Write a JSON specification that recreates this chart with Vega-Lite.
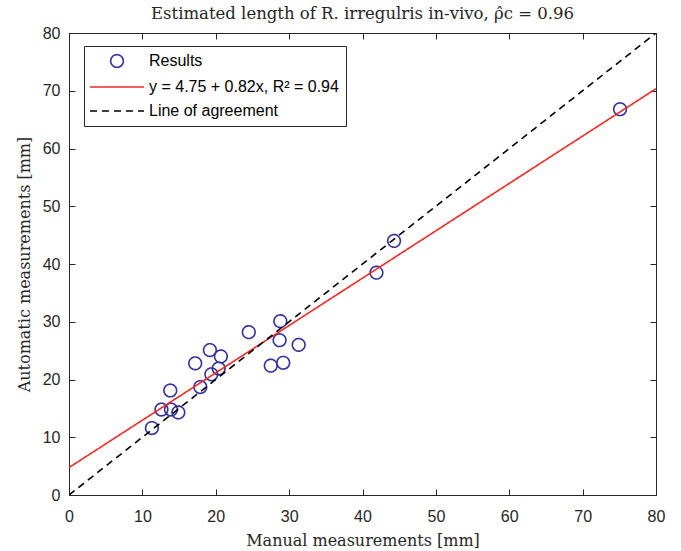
{
  "$schema": "https://vega.github.io/schema/vega-lite/v6.json",
  "width": 587,
  "height": 462,
  "autosize": "none",
  "padding": {"left": 69, "top": 33, "right": 25, "bottom": 56},
  "background": "white",
  "title": {"text": "Estimated length of R. irregulris in-vivo, ρ̂c = 0.96", "font": "DejaVu Serif", "fontSize": 16.5, "fontWeight": "normal", "color": "#262626", "offset": 3, "anchor": "middle"},
  "config": {
    "view": {"stroke": "#262626", "strokeWidth": 1},
    "axis": {"grid": false, "domainColor": "#262626", "tickColor": "#262626", "tickSize": -6, "labelFont": "Liberation Sans", "labelFontSize": 16, "labelColor": "#262626", "titleFont": "DejaVu Serif", "titleFontSize": 16, "titleFontWeight": "normal", "titleColor": "#262626", "labelFlush": false, "labelOverlap": false}
  },
  "datasets": {
    "pts": [
      {"manual": 11.3, "automatic": 11.6, "series": "Results"},
      {"manual": 12.6, "automatic": 14.8, "series": "Results"},
      {"manual": 13.8, "automatic": 18.1, "series": "Results"},
      {"manual": 13.9, "automatic": 14.8, "series": "Results"},
      {"manual": 14.9, "automatic": 14.3, "series": "Results"},
      {"manual": 17.2, "automatic": 22.8, "series": "Results"},
      {"manual": 17.9, "automatic": 18.7, "series": "Results"},
      {"manual": 19.2, "automatic": 25.1, "series": "Results"},
      {"manual": 19.4, "automatic": 20.9, "series": "Results"},
      {"manual": 20.4, "automatic": 21.9, "series": "Results"},
      {"manual": 20.7, "automatic": 24.0, "series": "Results"},
      {"manual": 24.5, "automatic": 28.2, "series": "Results"},
      {"manual": 27.5, "automatic": 22.4, "series": "Results"},
      {"manual": 28.7, "automatic": 26.8, "series": "Results"},
      {"manual": 28.8, "automatic": 30.1, "series": "Results"},
      {"manual": 29.2, "automatic": 22.9, "series": "Results"},
      {"manual": 31.3, "automatic": 26.0, "series": "Results"},
      {"manual": 41.9, "automatic": 38.5, "series": "Results"},
      {"manual": 44.3, "automatic": 44.0, "series": "Results"},
      {"manual": 75.1, "automatic": 66.8, "series": "Results"}
    ],
    "lines": [
      {"manual": 0, "automatic": 4.75, "series": "y = 4.75 + 0.82x, R² = 0.94"},
      {"manual": 80, "automatic": 70.35, "series": "y = 4.75 + 0.82x, R² = 0.94"},
      {"manual": 0, "automatic": 0, "series": "Line of agreement"},
      {"manual": 80, "automatic": 80, "series": "Line of agreement"}
    ]
  },
  "layer": [
    {
      "data": {"name": "pts"},
      "mark": {"type": "point", "filled": false, "size": 160, "strokeWidth": 1.6, "opacity": 1},
      "encoding": {
        "x": {"field": "manual", "type": "quantitative", "scale": {"domain": [0, 80], "nice": false, "zero": false}, "axis": {"orient": "bottom", "values": [0,10,20,30,40,50,60,70,80], "title": "Manual measurements [mm]", "labelPadding": 19, "titlePadding": 8}},
        "y": {"field": "automatic", "type": "quantitative", "scale": {"domain": [0, 80], "nice": false, "zero": false}, "axis": {"orient": "left", "values": [0,10,20,30,40,50,60,70,80], "title": "Automatic measurements [mm]", "labelPadding": 15, "titlePadding": 10}},
        "color": {"field": "series", "type": "nominal", "scale": {"domain": ["Results", "y = 4.75 + 0.82x, R² = 0.94", "Line of agreement"], "range": ["#33309a", "#ee2a24", "#000000"]},
          "legend": {"title": null, "orient": "none", "legendX": 15, "legendY": 13, "strokeColor": "#262626", "fillColor": "white", "padding": 7, "labelFont": "Liberation Sans", "labelFontSize": 16, "labelColor": "#000000", "symbolStrokeWidth": 1.6, "symbolSize": 160, "symbolOpacity": 1, "rowPadding": 8, "labelOffset": 24, "symbolOffset": 18, "labelLimit": 400}},
        "shape": {"field": "series", "type": "nominal", "scale": {"domain": ["Results", "y = 4.75 + 0.82x, R² = 0.94", "Line of agreement"], "range": ["circle", "M-4.27,0H4.27", "M-4.27,0H4.27"]}},
        "strokeDash": {"field": "series", "type": "nominal", "scale": {"domain": ["Results", "y = 4.75 + 0.82x, R² = 0.94", "Line of agreement"], "range": [[1, 0], [1, 0], [7, 5]]}}
      }
    },
    {
      "data": {"name": "lines"},
      "mark": {"type": "line", "strokeWidth": 1.6, "clip": true},
      "encoding": {
        "x": {"field": "manual", "type": "quantitative", "axis": {"orient": "top", "values": [0,10,20,30,40,50,60,70,80], "labels": false, "title": null, "domain": false}},
        "y": {"field": "automatic", "type": "quantitative", "axis": {"orient": "right", "values": [0,10,20,30,40,50,60,70,80], "labels": false, "title": null, "domain": false}},
        "color": {"field": "series", "type": "nominal"},
        "strokeDash": {"field": "series", "type": "nominal"},
        "detail": {"field": "series", "type": "nominal"}
      }
    }
  ],
  "resolve": {"axis": {"x": "independent", "y": "independent"}}
}
